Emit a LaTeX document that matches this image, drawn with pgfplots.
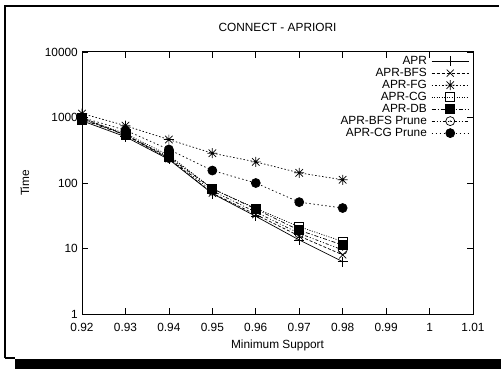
\documentclass[border=0pt]{standalone}
\usepackage{fontspec}
\setmainfont{Liberation Sans}
\usepackage{pgfplots}
\pgfplotsset{compat=1.18}
\newcommand\ff{\fontsize{11.9}{14}\selectfont}
\pgfdeclareplotmark{gpstar}{%
  \pgfpathmoveto{\pgfqpoint{-\pgfplotmarksize}{0pt}}\pgfpathlineto{\pgfqpoint{\pgfplotmarksize}{0pt}}%
  \pgfpathmoveto{\pgfqpoint{0pt}{-\pgfplotmarksize}}\pgfpathlineto{\pgfqpoint{0pt}{\pgfplotmarksize}}%
  \pgfpathmoveto{\pgfqpoint{-0.75\pgfplotmarksize}{-0.75\pgfplotmarksize}}\pgfpathlineto{\pgfqpoint{0.75\pgfplotmarksize}{0.75\pgfplotmarksize}}%
  \pgfpathmoveto{\pgfqpoint{-0.75\pgfplotmarksize}{0.75\pgfplotmarksize}}\pgfpathlineto{\pgfqpoint{0.75\pgfplotmarksize}{-0.75\pgfplotmarksize}}%
  \pgfusepathqstroke}
\pgfdeclareplotmark{gpodot}{%
  \pgfpathcircle{\pgfpointorigin}{\pgfplotmarksize}\pgfusepathqstroke
  \pgfpathcircle{\pgfpointorigin}{0.8pt}\pgfusepathqfill}
\begin{document}
\ff
\begin{tikzpicture}[x=1bp,y=1bp]
\useasboundingbox (0,0) rectangle (501,369);
\fill[black] (15,0) rectangle (501,10);
\draw[line width=2bp] (5,11) -- (5,363) -- (499,363);
\draw[line width=1.5bp] (5,11) -- (15,11);
\begin{axis}[
  at={(82bp,55bp)}, anchor=south west,
  width=391bp, height=262bp, scale only axis,
  ymode=log, log basis y=10,
  xmin=0.92, xmax=1.01, ymin=1, ymax=10000,
  xtick={0.92,0.93,0.94,0.95,0.96,0.97,0.98,0.99,1.00,1.01},
  xticklabels={\ff 0.92,\ff 0.93,\ff 0.94,\ff 0.95,\ff 0.96,\ff 0.97,\ff 0.98,\ff 0.99,\ff 1,\ff 1.01},
  ytick={1,10,100,1000,10000},
  yticklabels={\ff 1,\ff 10,\ff 100,\ff 1000,\ff 10000},
  /pgf/number format/assume math mode=true,
  tick align=inside,
  major tick length=6bp, minor tick length=3bp,
  every tick/.style={black, line width=0.6bp},
  axis line style={line width=1bp},
  xticklabel style={anchor=center, yshift=-13bp},
  yticklabel style={anchor=east, inner sep=0pt, xshift=-4bp},
  title={\ff CONNECT - APRIORI},
  title style={at={(rel axis cs:0.5,1)}, anchor=center, yshift=19bp},
  xlabel={\ff Minimum Support},
  ylabel={\ff Time},
  every axis x label/.style={at={(rel axis cs:0.5,0)}, anchor=center, yshift=-31bp},
  every axis y label/.style={at={(rel axis cs:-0.1458,0.5)}, anchor=center, rotate=90},
  legend cell align=right,
  legend plot pos=right,
  legend style={at={(rel axis cs:0.99,0.988)}, anchor=north east, draw=none, fill=none,
    inner sep=0pt, outer sep=0pt, row sep=0pt,
    nodes={inner sep=0.5pt, text height=8.5bp, text depth=2.5bp},
    /tikz/every odd column/.append style={column sep=4bp}},
  legend image code/.code={\draw[mark repeat=2,mark phase=2] plot coordinates {(0bp,0bp)(18.5bp,0bp)(37bp,0bp)};},
  every axis plot/.append style={line width=0.7bp, black, mark options={solid, line width=0.7bp}},
]
\addplot[mark=+, mark size=5bp] coordinates {(0.92,890)(0.93,508)(0.94,229)(0.95,69)(0.96,31)(0.97,13.5)(0.98,6.3)};
\addlegendentry{\ff APR}
\addplot[dash pattern=on 3bp off 2bp, mark=x, mark size=5bp] coordinates {(0.92,1000)(0.93,540)(0.94,235)(0.95,70)(0.96,33)(0.97,15.5)(0.98,8.0)};
\addlegendentry{\ff APR-BFS}
\addplot[dash pattern=on 1.5bp off 2bp, mark=gpstar, mark size=5bp] coordinates {(0.92,1150)(0.93,750)(0.94,460)(0.95,285)(0.96,210)(0.97,143)(0.98,112)};
\addlegendentry{\ff APR-FG}
\addplot[dash pattern=on 1bp off 1.5bp, mark=square, mark size=4.5bp] coordinates {(0.92,960)(0.93,570)(0.94,265)(0.95,82)(0.96,41)(0.97,21.5)(0.98,12.8)};
\addlegendentry{\ff APR-CG}
\addplot[dash pattern=on 4bp off 2bp on 1bp off 2bp, mark=square*, mark size=4.5bp] coordinates {(0.92,930)(0.93,540)(0.94,250)(0.95,82)(0.96,40)(0.97,19)(0.98,11.3)};
\addlegendentry{\ff APR-DB}
\addplot[dash pattern=on 3bp off 2bp on 1bp off 2bp on 1bp off 2bp, mark=gpodot, mark size=4.5bp] coordinates {(0.92,940)(0.93,550)(0.94,240)(0.95,76)(0.96,36)(0.97,17)(0.98,9.5)};
\addlegendentry{\ff APR-BFS Prune}
\addplot[dash pattern=on 1.5bp off 2.5bp, mark=*, mark size=4.5bp] coordinates {(0.92,1000)(0.93,640)(0.94,325)(0.95,155)(0.96,100)(0.97,51)(0.98,41.5)};
\addlegendentry{\ff APR-CG Prune}
\end{axis}
\end{tikzpicture}
\end{document}
